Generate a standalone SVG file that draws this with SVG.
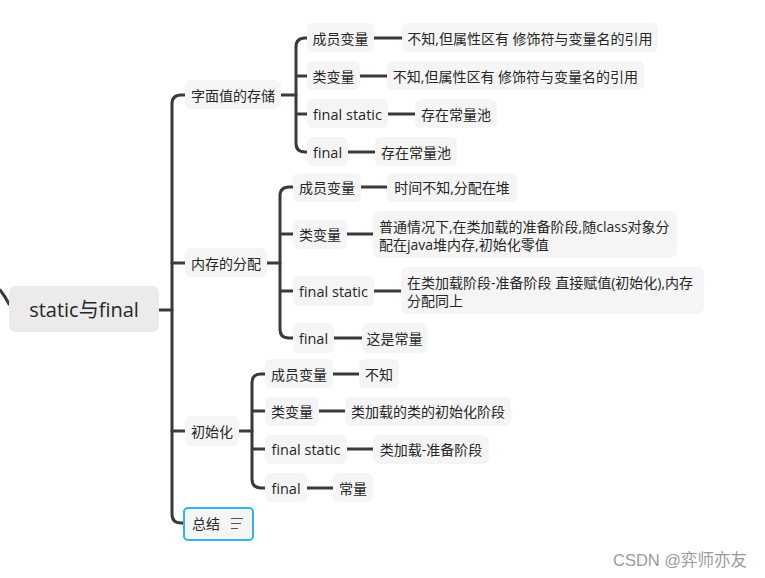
<svg xmlns="http://www.w3.org/2000/svg" width="765" height="578" viewBox="0 0 765 578">
<style>
.n{fill:#f5f5f5}
.t{font-family:"Open Sans","Noto Sans CJK SC",sans-serif;font-size:14px;fill:#262626;text-anchor:middle;dominant-baseline:central}
.tl{text-anchor:start}
.c{fill:none;stroke:#3a3a3a;stroke-width:3;stroke-linecap:round;stroke-linejoin:round}
</style>
<rect width="765" height="578" fill="#ffffff"/>
<g id="connectors">
<path class="c" d="M0,290 Q5,296 9,304"/>
<path class="c" d="M159,310 H172"/>
<path class="c" d="M185,95 H181 Q172,95 172,104 V514 Q172,523 181,523 H183"/>
<path class="c" d="M172,263 H185 M172,431 H185"/>
<path class="c" d="M281,95 H296"/>
<path class="c" d="M307,38 H305 Q296,38 296,47 V143 Q296,152 305,152 H307 M296,76 H307 M296,114 H307"/>
<path class="c" d="M374,38 H402 M360,76 H387 M388,114 H415 M348,152 H375"/>
<path class="c" d="M267,263 H280"/>
<path class="c" d="M293,187 H289 Q280,187 280,196 V329 Q280,338 289,338 H293 M280,234 H293 M280,291 H293"/>
<path class="c" d="M361,187 H387 M347,234 H373 M374,291 H401 M334,338 H362"/>
<path class="c" d="M239,431 H252"/>
<path class="c" d="M265,374 H261 Q252,374 252,383 V479 Q252,488 261,488 H265 M252,411 H265 M252,449 H265"/>
<path class="c" d="M333,374 H359 M319,411 H345 M347,449 H373 M307,488 H333"/>
</g>
<g id="root"><rect x="9" y="286" width="150" height="46" rx="7" fill="#ebebeb"/><text class="t" x="84" y="309" style="font-size:20px">static与final</text></g>
<g id="n1"><rect class="n" x="185" y="80" width="96" height="29" rx="6"/><text class="t" x="233" y="95">字面值的存储</text></g>
<g id="n1a"><rect class="n" x="307" y="23" width="67" height="29" rx="6"/><text class="t" x="340.5" y="38">成员变量</text></g>
<g id="n1b"><rect class="n" x="307" y="61" width="53" height="29" rx="6"/><text class="t" x="333.5" y="76">类变量</text></g>
<g id="n1c"><rect class="n" x="307" y="99" width="81" height="29" rx="6"/><text class="t" x="347.5" y="114" style="font-size:14.5px">final static</text></g>
<g id="n1d"><rect class="n" x="307" y="137" width="41" height="29" rx="6"/><text class="t" x="327.5" y="152" style="font-size:14.5px">final</text></g>
<g id="l1a"><rect class="n" x="402" y="23" width="256" height="29" rx="6"/><text class="t" x="530" y="38">不知,但属性区有 修饰符与变量名的引用</text></g>
<g id="l1b"><rect class="n" x="387" y="61" width="257" height="29" rx="6"/><text class="t" x="515.5" y="76">不知,但属性区有 修饰符与变量名的引用</text></g>
<g id="l1c"><rect class="n" x="415" y="99" width="82" height="29" rx="6"/><text class="t" x="456" y="114">存在常量池</text></g>
<g id="l1d"><rect class="n" x="375" y="137" width="82" height="29" rx="6"/><text class="t" x="416" y="152">存在常量池</text></g>
<g id="n2"><rect class="n" x="185" y="248" width="82" height="29" rx="6"/><text class="t" x="226" y="263">内存的分配</text></g>
<g id="n2a"><rect class="n" x="293" y="173" width="68" height="29" rx="6"/><text class="t" x="327" y="187.5">成员变量</text></g>
<g id="n2b"><rect class="n" x="293" y="220" width="54" height="29" rx="6"/><text class="t" x="320" y="234.5">类变量</text></g>
<g id="n2c"><rect class="n" x="293" y="276" width="81" height="30" rx="6"/><text class="t" x="333.5" y="291" style="font-size:14.5px">final static</text></g>
<g id="n2d"><rect class="n" x="293" y="323" width="41" height="30" rx="6"/><text class="t" x="313.5" y="338" style="font-size:14.5px">final</text></g>
<g id="l2a"><rect class="n" x="387" y="173" width="130" height="29" rx="6"/><text class="t" x="452" y="187.5">时间不知,分配在堆</text></g>
<g id="l2b"><rect class="n" x="373" y="211" width="304" height="47" rx="7"/><text class="t tl" x="379" y="226">普通情况下,在类加载的准备阶段,随class对象分</text><text class="t tl" x="379" y="244">配在java堆内存,初始化零值</text></g>
<g id="l2c"><rect class="n" x="401" y="267" width="303" height="47" rx="7"/><text class="t tl" x="407" y="282">在类加载阶段-准备阶段 直接赋值(初始化),内存</text><text class="t tl" x="407" y="300">分配同上</text></g>
<g id="l2d"><rect class="n" x="362" y="323" width="65" height="30" rx="6"/><text class="t" x="394.5" y="338">这是常量</text></g>
<g id="n3"><rect class="n" x="185" y="416" width="54" height="30" rx="6"/><text class="t" x="212" y="431">初始化</text></g>
<g id="n3a"><rect class="n" x="265" y="359" width="68" height="29" rx="6"/><text class="t" x="299" y="374">成员变量</text></g>
<g id="n3b"><rect class="n" x="265" y="397" width="54" height="29" rx="6"/><text class="t" x="292" y="411.5">类变量</text></g>
<g id="n3c"><rect class="n" x="265" y="435" width="82" height="29" rx="6"/><text class="t" x="306" y="449.5" style="font-size:14.5px">final static</text></g>
<g id="n3d"><rect class="n" x="265" y="473" width="42" height="29" rx="6"/><text class="t" x="286" y="488" style="font-size:14.5px">final</text></g>
<g id="l3a"><rect class="n" x="359" y="359" width="40" height="29" rx="6"/><text class="t" x="379" y="374">不知</text></g>
<g id="l3b"><rect class="n" x="345" y="397" width="166" height="29" rx="6"/><text class="t" x="428" y="411.5">类加载的类的初始化阶段</text></g>
<g id="l3c"><rect class="n" x="373" y="435" width="116" height="29" rx="6"/><text class="t" x="431" y="449.5">类加载-准备阶段</text></g>
<g id="l3d"><rect class="n" x="333" y="473" width="40" height="29" rx="6"/><text class="t" x="353" y="488">常量</text></g>
<g id="n4"><rect x="184" y="508" width="69" height="32" rx="4" fill="#f5f5f5" stroke="#2eb4ee" stroke-width="2"/><text class="t tl" x="192" y="523.5">总结</text><path d="M231,518.5 H243 M231,523.5 H241 M231,528.5 H238" stroke="#555" stroke-width="1.2" fill="none"/></g>
<text x="613" y="566" style="font-family:'Liberation Sans','Noto Sans CJK SC',sans-serif;font-size:16.5px;fill:#9a9a9a">CSDN @弈师亦友</text>
</svg>
